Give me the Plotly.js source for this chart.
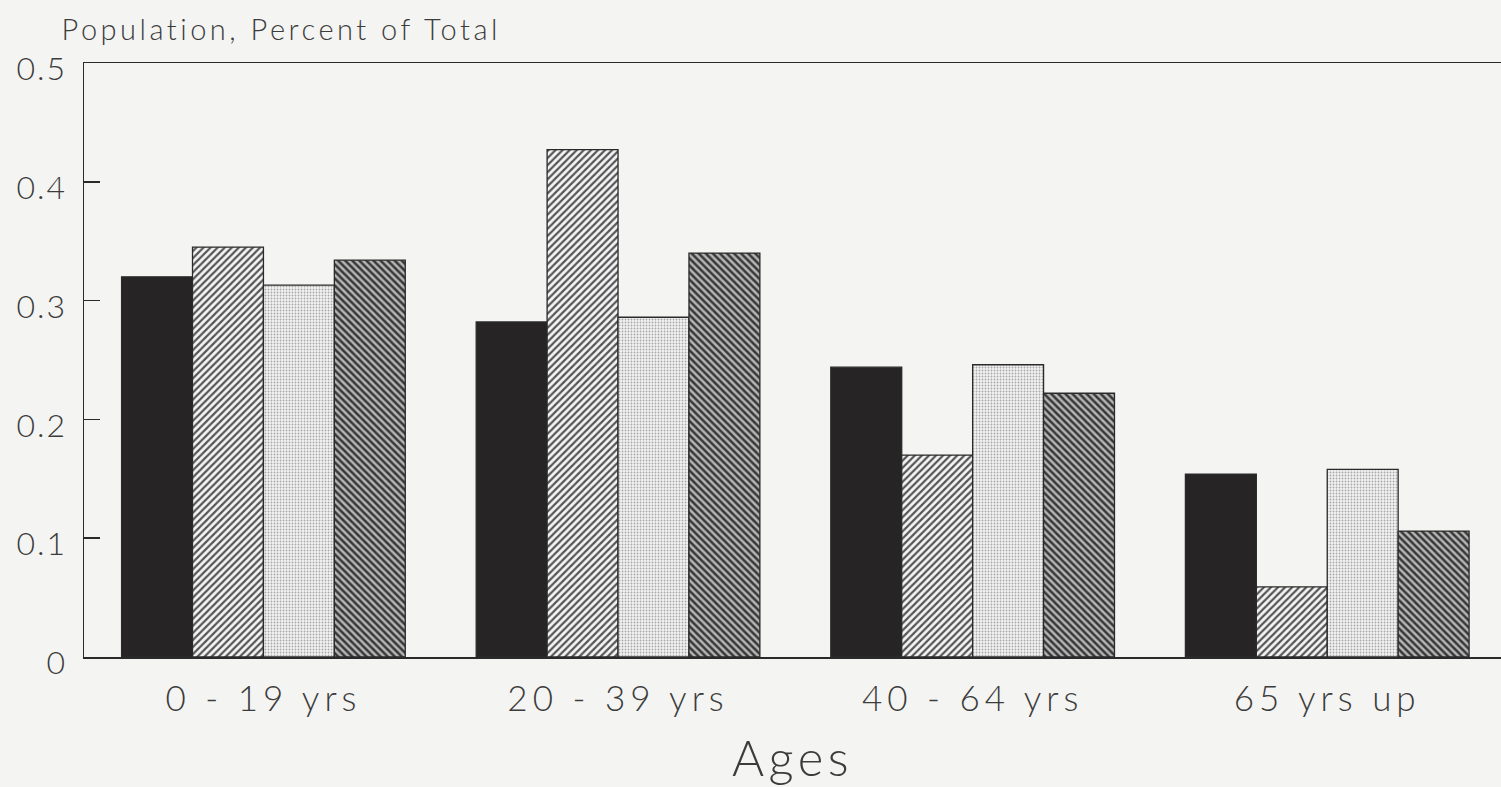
<!DOCTYPE html>
<html>
<head>
<meta charset="utf-8">
<script src="https://cdn.plot.ly/plotly-3.0.1.min.js"></script>
<style>
html,body{margin:0;padding:0;background:#f4f4f2;overflow:hidden;}
#chart{width:1501px;height:787px;}
#chart .xtick text{letter-spacing:5px;}
#chart .ytick text{letter-spacing:2px;}
#chart .gtitle{letter-spacing:3.5px;}
#chart .xtitle{letter-spacing:4.5px;}
</style>
</head>
<body>
<div id="chart"></div>
<script>
const categories = ["0 - 19 yrs", "20 - 39 yrs", "40 - 64 yrs", "65 yrs up"];
const seriesA = [0.320, 0.282, 0.244, 0.154];
const seriesB = [0.345, 0.427, 0.170, 0.059];
const seriesC = [0.313, 0.286, 0.246, 0.158];
const seriesD = [0.334, 0.340, 0.222, 0.106];
const yTicks = [0, 0.1, 0.2, 0.3, 0.4, 0.5];

const FONT = "Lato, 'Open Sans', sans-serif";
const INK = "#3c3c3c";
const line = {color: "#2a2a2a", width: 1.3};

const traces = [
  {y: seriesA, marker: {color: "#262424", line: line}},
  {y: seriesB, marker: {color: "#ffffff", line: line,
     pattern: {shape: "/", fgcolor: "#555555", bgcolor: "#f5f5f5", size: 5, solidity: 0.45}}},
  {y: seriesC, marker: {color: "#ffffff", line: line,
     pattern: {shape: ".", fgcolor: "#a8a8a8", bgcolor: "#f3f3f3", size: 3, solidity: 0.3}}},
  {y: seriesD, marker: {color: "#ffffff", line: line,
     pattern: {shape: "\\", fgcolor: "#383838", bgcolor: "#b5b5b5", size: 5, solidity: 0.5}}}
].map(t => Object.assign({type: "bar", x: categories, hoverinfo: "skip", showlegend: false}, t));

const layout = {
  width: 1501, height: 787,
  paper_bgcolor: "#f4f4f2", plot_bgcolor: "#f4f4f2",
  margin: {l: 84, r: 0, t: 63, b: 130},
  barmode: "group", bargap: 0.2, bargroupgap: 0,
  font: {family: FONT, color: INK, size: 30, weight: 300},
  title: {text: "Population, Percent of Total", xref: "container", yref: "container",
          x: 0.041, xanchor: "left", y: 0.962, yanchor: "middle",
          font: {family: FONT, size: 29, color: INK, weight: 300}},
  xaxis: {range: [-0.506, 3.49], showline: true, mirror: true, linecolor: "#2a2a2a", linewidth: 1.5,
          ticks: "", showgrid: false, zeroline: false, ticklabelstandoff: 10,
          tickfont: {family: FONT, size: 35, color: INK, weight: 300},
          title: {text: "Ages", standoff: 25, font: {family: FONT, size: 49, color: INK, weight: 300}}},
  yaxis: {range: [0, 0.5], tickvals: yTicks, showline: true, linecolor: "#2a2a2a", linewidth: 1.5,
          ticks: "inside", ticklen: 16, tickwidth: 1.5, tickcolor: "#2a2a2a",
          showgrid: false, zeroline: false, ticklabelstandoff: 9, ticklabelshift: 6,
          tickfont: {family: FONT, size: 32, color: INK, weight: 300}}
};

Plotly.newPlot("chart", traces, layout, {staticPlot: true});
</script>
</body>
</html>
